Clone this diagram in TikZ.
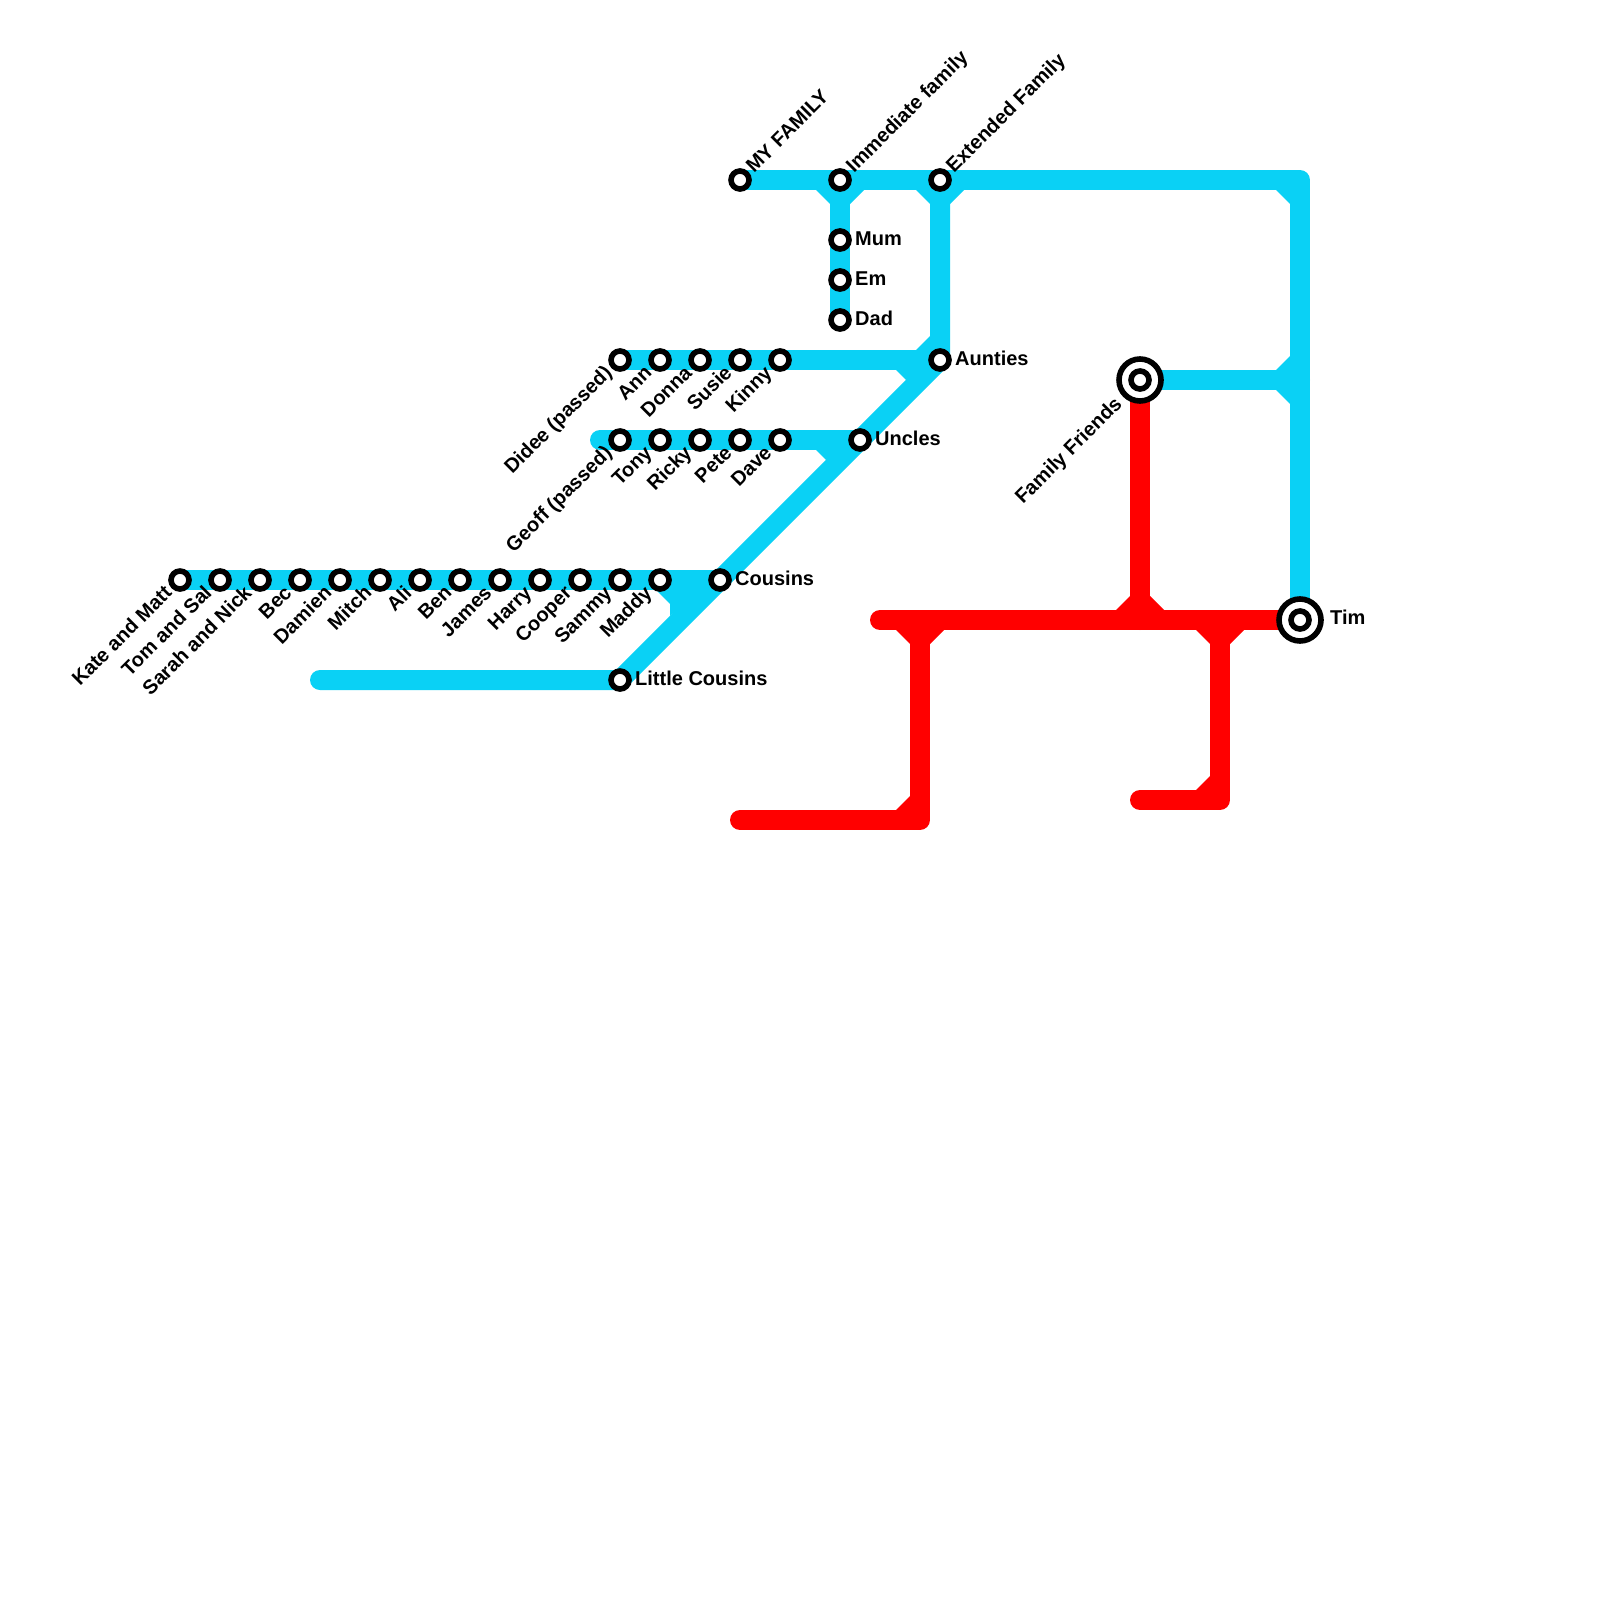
\documentclass[tikz,border=0pt]{standalone}
\usepackage{fontspec}
\setmainfont{Liberation Sans}
\definecolor{metrob}{RGB}{10,209,245}
\definecolor{metror}{RGB}{255,0,0}
\tikzset{
  trk/.style={line width=20pt,line cap=round,line join=round},
  stn/.style={circle,draw=black,fill=white,line width=5.6pt,minimum size=18pt,inner sep=0pt},
  hub/.style={circle,draw=black,fill=white,line width=5.6pt,minimum size=42pt,inner sep=0pt},
  lbl/.style={font=\fontsize{20}{20}\selectfont\bfseries,inner sep=0pt,text=black},
  lblne/.style={lbl,rotate=45,anchor=base west},
  lblsw/.style={lbl,rotate=45,anchor=base east},
  lble/.style={lbl,anchor=base west},
}
% flares: a branch leaving a 20pt line
\newcommand{\flDown}[3]{\fill[#1] ([shift={(-24,#3)}]#2) -- ([shift={(-10,#3+14)}]#2) -- ([shift={(10,#3+14)}]#2) -- ([shift={(24,#3)}]#2) -- cycle;}
\newcommand{\flUp}[3]{\fill[#1] ([shift={(-24,-#3)}]#2) -- ([shift={(-10,-#3-14)}]#2) -- ([shift={(10,-#3-14)}]#2) -- ([shift={(24,-#3)}]#2) -- cycle;}
\begin{document}
\begin{tikzpicture}[x=1pt,y=-1pt]
\useasboundingbox (0,0) rectangle (1600,1600);
\fill[white] (0,0) rectangle (1600,1600);
% positions
\foreach \n/\x in {ka/180,to/220,sa/260,be/300,da/340,mi/380,al/420,bn/460,ja/500,ha/540,co/580,sm/620,ma/660}
  \coordinate (\n) at (\x,580);
\foreach \n/\x in {di/620,an/660,dn/700,su/740,ki/780}
  \coordinate (\n) at (\x,360);
\foreach \n/\x in {ge/620,ty/660,ri/700,pe/740,dv/780}
  \coordinate (\n) at (\x,440);
\coordinate (myf) at (740,180);
\coordinate (imm) at (840,180);
\coordinate (ext) at (940,180);
\coordinate (mum) at (840,240);
\coordinate (emm) at (840,280);
\coordinate (dad) at (840,320);
\coordinate (aun) at (940,360);
\coordinate (unc) at (860,440);
\coordinate (cou) at (720,580);
\coordinate (lit) at (620,680);
\coordinate (fam) at (1140,380);
\coordinate (tim) at (1300,620);
\coordinate (corne) at (1300,180);
\coordinate (tjff) at (1300,380);
\coordinate (endlit) at (320,680);
\coordinate (endunc) at (600,440);
\coordinate (rtl) at (880,620);
\coordinate (rj) at (1140,620);
\coordinate (ra) at (920,620);
\coordinate (ra2) at (920,820);
\coordinate (ra3) at (740,820);
\coordinate (rb) at (1220,620);
\coordinate (rb2) at (1220,800);
\coordinate (rb3) at (1140,800);
% blue lines
\draw[trk,metrob] (myf) -- (corne) -- (tim);
\draw[trk,metrob] (imm) -- (dad);
\draw[trk,metrob] (ext) -- (aun) -- (lit) -- (endlit);
\draw[trk,metrob] (di) -- (aun);
\draw[trk,metrob] (endunc) -- (unc);
\draw[trk,metrob] (ka) -- (cou);
\draw[trk,metrob] (fam) -- (tjff);
\flDown{metrob}{imm}{10}
\flDown{metrob}{ext}{10}
\fill[metrob] (1276,190) -- (1290,204) -- (1290,190) -- cycle;
\fill[metrob] (1276,370) -- (1290,356) -- (1290,404) -- (1276,390) -- cycle;
\fill[metrob] (916,350) -- (930,336) -- (940,350) -- cycle;
\fill[metrob] (896,370) -- (906,380) -- (930,370) -- cycle;
\fill[metrob] (816,450) -- (826,460) -- (850,450) -- cycle;
\fill[metrob] (656,590) -- (670,604) -- (670,616) -- (700,590) -- cycle;
% red lines
\draw[trk,metror] (rtl) -- (tim);
\draw[trk,metror] (fam) -- (rj);
\draw[trk,metror] (ra) -- (ra2) -- (ra3);
\draw[trk,metror] (rb) -- (rb2) -- (rb3);
\flDown{metror}{ra}{10}
\flDown{metror}{rb}{10}
\flUp{metror}{rj}{10}
\fill[metror] (896,810) -- (910,796) -- (910,810) -- cycle;
\fill[metror] (1196,790) -- (1210,776) -- (1210,790) -- cycle;
% stations
\foreach \n in {ka,to,sa,be,da,mi,al,bn,ja,ha,co,sm,ma,di,an,dn,su,ki,ge,ty,ri,pe,dv,myf,imm,ext,mum,emm,dad,aun,unc,cou,lit}
  \node[stn] (st\n) at (\n) {};
\node[hub] (hubfam) at (fam) {};
\node[stn] (stfam) at (fam) {};
\node[hub] (hubtim) at (tim) {};
\node[stn] (sttim) at (tim) {};
% labels
\foreach \n/\t in {ka/Kate and Matt,to/Tom and Sal,sa/Sarah and Nick,be/Bec,da/Damien,mi/Mitch,al/Ali,bn/Ben,ja/James,ha/Harry,co/Cooper,sm/Sammy,ma/Maddy,di/Didee (passed),an/Ann,dn/Donna,su/Susie,ki/Kinny,ge/Geoff (passed),ty/Tony,ri/Ricky,pe/Pete,dv/Dave}
  \node[lblsw] (lb\n) at ([shift={(-7,14)}]\n) {\t};
\foreach \n/\t in {myf/MY FAMILY,imm/Immediate family,ext/Extended Family}
  \node[lblne] (lb\n) at ([shift={(14,-6)}]\n) {\t};
\foreach \n/\t in {mum/Mum,emm/Em,dad/Dad,aun/Aunties,unc/Uncles,cou/Cousins,lit/Little Cousins}
  \node[lble] (lb\n) at ([shift={(15,5)}]\n) {\t};
\node[lble] (lbtim) at ([shift={(30,4)}]tim) {Tim};
\node[lblsw] (lbfam) at ([shift={(-17,25)}]fam) {Family Friends};
\end{tikzpicture}
\end{document}
